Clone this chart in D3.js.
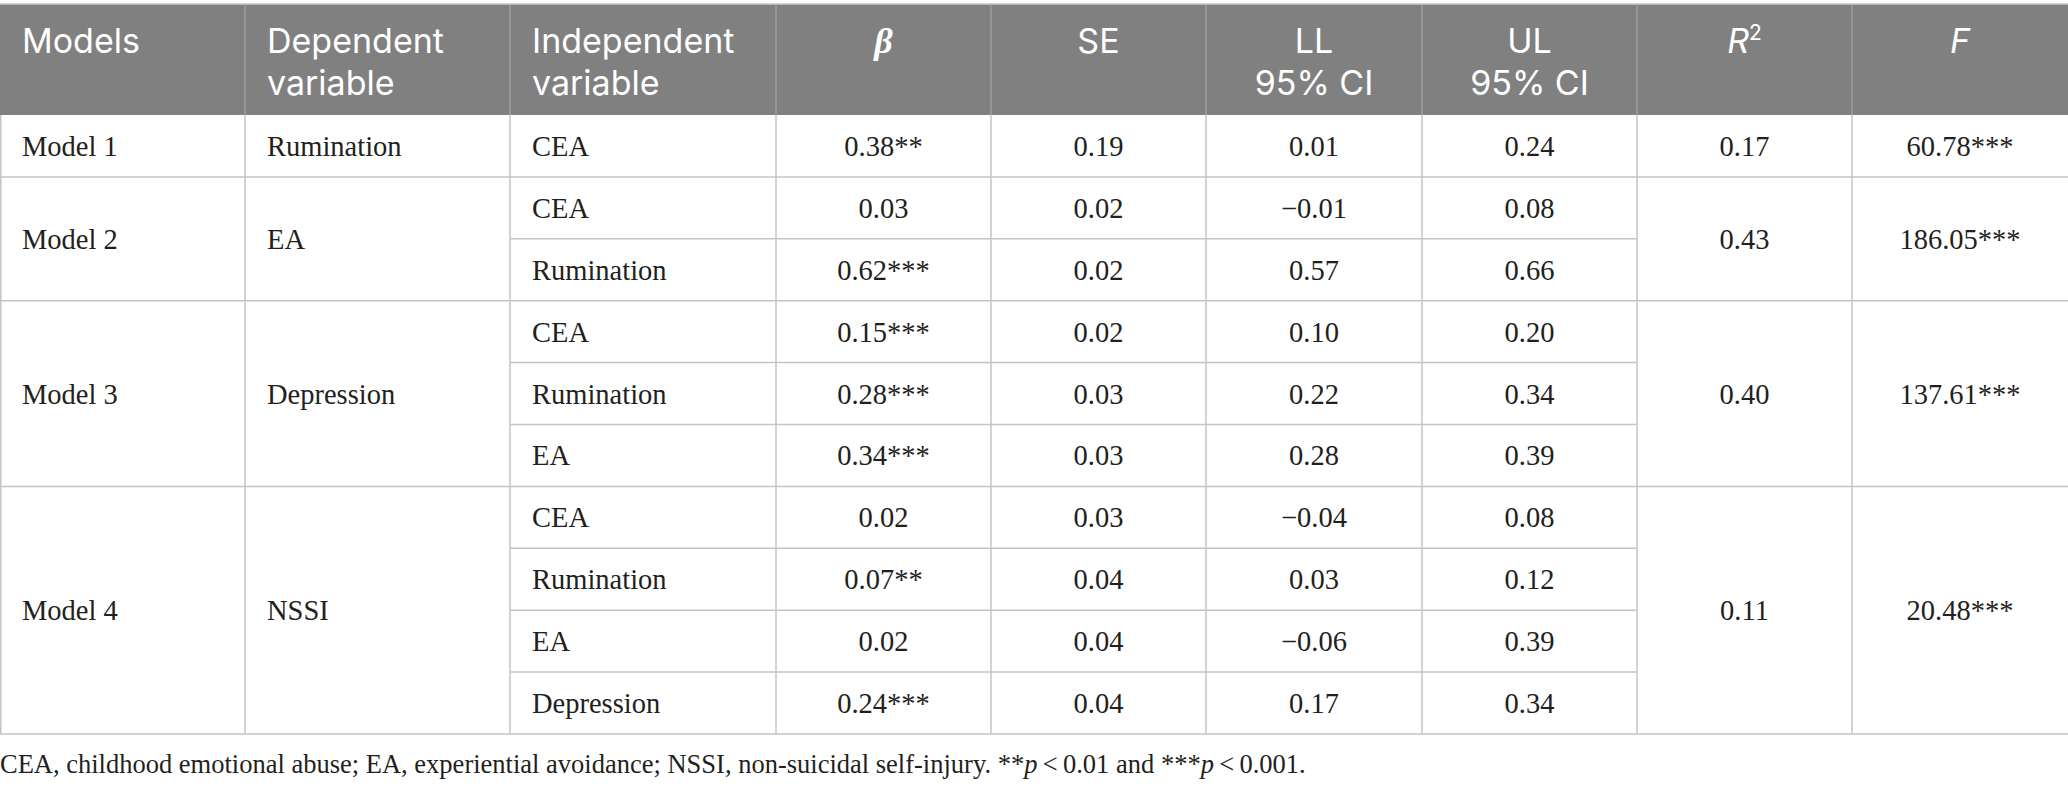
<!DOCTYPE html>
<html>
<head>
<meta charset="utf-8">
<script src="https://cdn.jsdelivr.net/npm/d3@7"></script>
<style>
  body { margin: 0; background: #fff; }
  svg { display: block; }
</style>
</head>
<body>
<div id="table"></div>
<script>
// table content
const models = ["Model 1", "Model 2", "Model 3", "Model 4"];
const dependents = ["Rumination", "EA", "Depression", "NSSI"];
const predictors = [
    ["CEA"],
    ["CEA", "Rumination"],
    ["CEA", "Rumination", "EA"],
    ["CEA", "Rumination", "EA", "Depression"]
];
const betaValues = [0.38, 0.03, 0.62, 0.15, 0.28, 0.34, 0.02, 0.07, 0.02, 0.24];
const betaStars = ["**", "", "***", "***", "***", "***", "", "**", "", "***"];
const seValues = [0.19, 0.02, 0.02, 0.02, 0.03, 0.03, 0.03, 0.04, 0.04, 0.04];
const llValues = [0.01, -0.01, 0.57, 0.10, 0.22, 0.28, -0.04, 0.03, -0.06, 0.17];
const ulValues = [0.24, 0.08, 0.66, 0.20, 0.34, 0.39, 0.08, 0.12, 0.39, 0.34];
const r2Values = [0.17, 0.43, 0.40, 0.11];
const fValues = [60.78, 186.05, 137.61, 20.48];
const fStars = ["***", "***", "***", "***"];
const footnote = "CEA, childhood emotional abuse; EA, experiential avoidance; NSSI, non-suicidal self-injury. ";

const W = 2068, H = 789;
const columns = ["model", "dep", "indep", "beta", "se", "ll", "ul", "r2", "f"];
const colWidths = [245, 265, 266, 215, 215, 216, 215, 215, 216];
const headerTop = 4, headerBottom = 115, tableBottom = 734;
const lineColor = "#c4c4c4";
const serif = "'Liberation Serif', 'Times New Roman', serif";
const sans = "Inter, 'Open Sans', sans-serif";
const headSize = "34px";
const fmt = d3.format(".2f");

// column edges
const colLeft = d3.scaleOrdinal()
    .domain(columns)
    .range(d3.cumsum([0].concat(colWidths)).slice(0, columns.length));
const colWidth = d3.scaleOrdinal().domain(columns).range(colWidths);
const colCenter = c => colLeft(c) + colWidth(c) / 2;

// flat rows
const rows = [];
predictors.forEach((list, g) => list.forEach(p => rows.push({ group: g, pred: p })));
rows.forEach((r, i) => {
    r.beta = fmt(betaValues[i]) + betaStars[i];
    r.se = fmt(seValues[i]);
    r.ll = fmt(llValues[i]);
    r.ul = fmt(ulValues[i]);
});

const y = d3.scaleBand()
    .domain(d3.range(rows.length))
    .range([headerBottom, tableBottom]);

const groups = models.map((m, g) => {
    const idx = rows.map((r, i) => r.group === g ? i : -1).filter(i => i >= 0);
    return {
        model: m,
        dep: dependents[g],
        r2: fmt(r2Values[g]),
        f: fmt(fValues[g]) + fStars[g],
        top: y(idx[0]),
        bottom: y(idx[idx.length - 1]) + y.bandwidth()
    };
});

const svg = d3.select("#table").append("svg")
    .attr("width", W)
    .attr("height", H);

// header
svg.append("rect")
    .attr("x", 0).attr("y", headerTop)
    .attr("width", W).attr("height", headerBottom - headerTop)
    .attr("fill", "#7f807f");
svg.append("line")
    .attr("x1", 0).attr("x2", W)
    .attr("y1", headerTop).attr("y2", headerTop)
    .attr("stroke", "#c8c8c8").attr("stroke-width", 1.5);
svg.selectAll(".hsep").data(columns.slice(1)).enter().append("line")
    .attr("class", "hsep")
    .attr("x1", c => colLeft(c)).attr("x2", c => colLeft(c))
    .attr("y1", headerTop).attr("y2", headerBottom)
    .attr("stroke", "#a5a5a5").attr("stroke-width", 1.2);

const headers = [
    { col: "model", lines: ["Models"], anchor: "start" },
    { col: "dep", lines: ["Dependent", "variable"], anchor: "start" },
    { col: "indep", lines: ["Independent", "variable"], anchor: "start" },
    { col: "se", lines: ["SE"], anchor: "middle" },
    { col: "ll", lines: ["LL", "95% CI"], anchor: "middle" },
    { col: "ul", lines: ["UL", "95% CI"], anchor: "middle" }
];
headers.forEach(h => {
    const hx = h.anchor === "start" ? colLeft(h.col) + 22 : colCenter(h.col);
    const t = svg.append("text")
        .attr("x", hx)
        .attr("text-anchor", h.anchor)
        .attr("fill", "#fff")
        .style("font-family", sans)
        .style("font-size", headSize);
    h.lines.forEach((l, i) => {
        t.append("tspan")
            .attr("x", hx)
            .attr("y", 53 + i * 42)
            .text(l);
    });
});

svg.append("text")
    .attr("x", colCenter("beta")).attr("y", 53)
    .attr("text-anchor", "middle").attr("fill", "#fff")
    .style("font-family", serif).style("font-size", "36px")
    .style("font-weight", "bold").style("font-style", "italic")
    .text("β");

const r2Head = svg.append("text")
    .attr("x", colCenter("r2")).attr("y", 53)
    .attr("text-anchor", "middle").attr("fill", "#fff")
    .style("font-family", sans).style("font-size", headSize);
r2Head.append("tspan").style("font-style", "italic").text("R");
r2Head.append("tspan").attr("dy", -13).style("font-size", "21px").text("2");

svg.append("text")
    .attr("x", colCenter("f")).attr("y", 53)
    .attr("text-anchor", "middle").attr("fill", "#fff")
    .style("font-family", sans).style("font-size", headSize)
    .style("font-style", "italic")
    .text("F");

// body grid lines
const body = svg.append("g").attr("stroke", lineColor).attr("stroke-width", 1.5);

// full-width lines between model groups
body.selectAll(".gline").data(groups).enter().append("line")
    .attr("x1", 0).attr("x2", W)
    .attr("y1", d => d.bottom).attr("y2", d => d.bottom);

// lines between predictor rows inside a group
body.selectAll(".rline")
    .data(rows.filter((r, i) => i < rows.length - 1 && rows[i + 1].group === r.group))
    .enter().append("line")
    .attr("x1", colLeft("indep")).attr("x2", colLeft("r2"))
    .attr("y1", d => y(rows.indexOf(d)) + y.bandwidth())
    .attr("y2", d => y(rows.indexOf(d)) + y.bandwidth());

// vertical lines
body.selectAll(".vline").data(columns).enter().append("line")
    .attr("x1", c => colLeft(c) + (c === "model" ? 0.75 : 0))
    .attr("x2", c => colLeft(c) + (c === "model" ? 0.75 : 0))
    .attr("y1", headerBottom).attr("y2", tableBottom);

// body text
const cellText = (x, yy, anchor, txt) => svg.append("text")
    .attr("x", x).attr("y", yy)
    .attr("text-anchor", anchor)
    .attr("fill", "#231f20")
    .style("font-family", serif)
    .style("font-size", "28.5px")
    .text(txt);

groups.forEach(g => {
    const mid = (g.top + g.bottom) / 2 + 10;
    cellText(colLeft("model") + 22, mid, "start", g.model);
    cellText(colLeft("dep") + 22, mid, "start", g.dep);
    cellText(colCenter("r2"), mid, "middle", g.r2);
    cellText(colCenter("f"), mid, "middle", g.f);
});

rows.forEach((r, i) => {
    const mid = y(i) + y.bandwidth() / 2 + 10;
    cellText(colLeft("indep") + 22, mid, "start", r.pred);
    cellText(colCenter("beta"), mid, "middle", r.beta);
    cellText(colCenter("se"), mid, "middle", r.se);
    cellText(colCenter("ll"), mid, "middle", r.ll);
    cellText(colCenter("ul"), mid, "middle", r.ul);
});

// footnote
const note = svg.append("text")
    .attr("x", 0).attr("y", 773)
    .attr("fill", "#231f20")
    .style("font-family", serif)
    .style("font-size", "26.5px");
note.append("tspan").text(footnote + "**");
note.append("tspan").style("font-style", "italic").text("p");
note.append("tspan").text("\u2009<\u20090.01 and ***");
note.append("tspan").style("font-style", "italic").text("p");
note.append("tspan").text("\u2009<\u20090.001.");
</script>
</body>
</html>
